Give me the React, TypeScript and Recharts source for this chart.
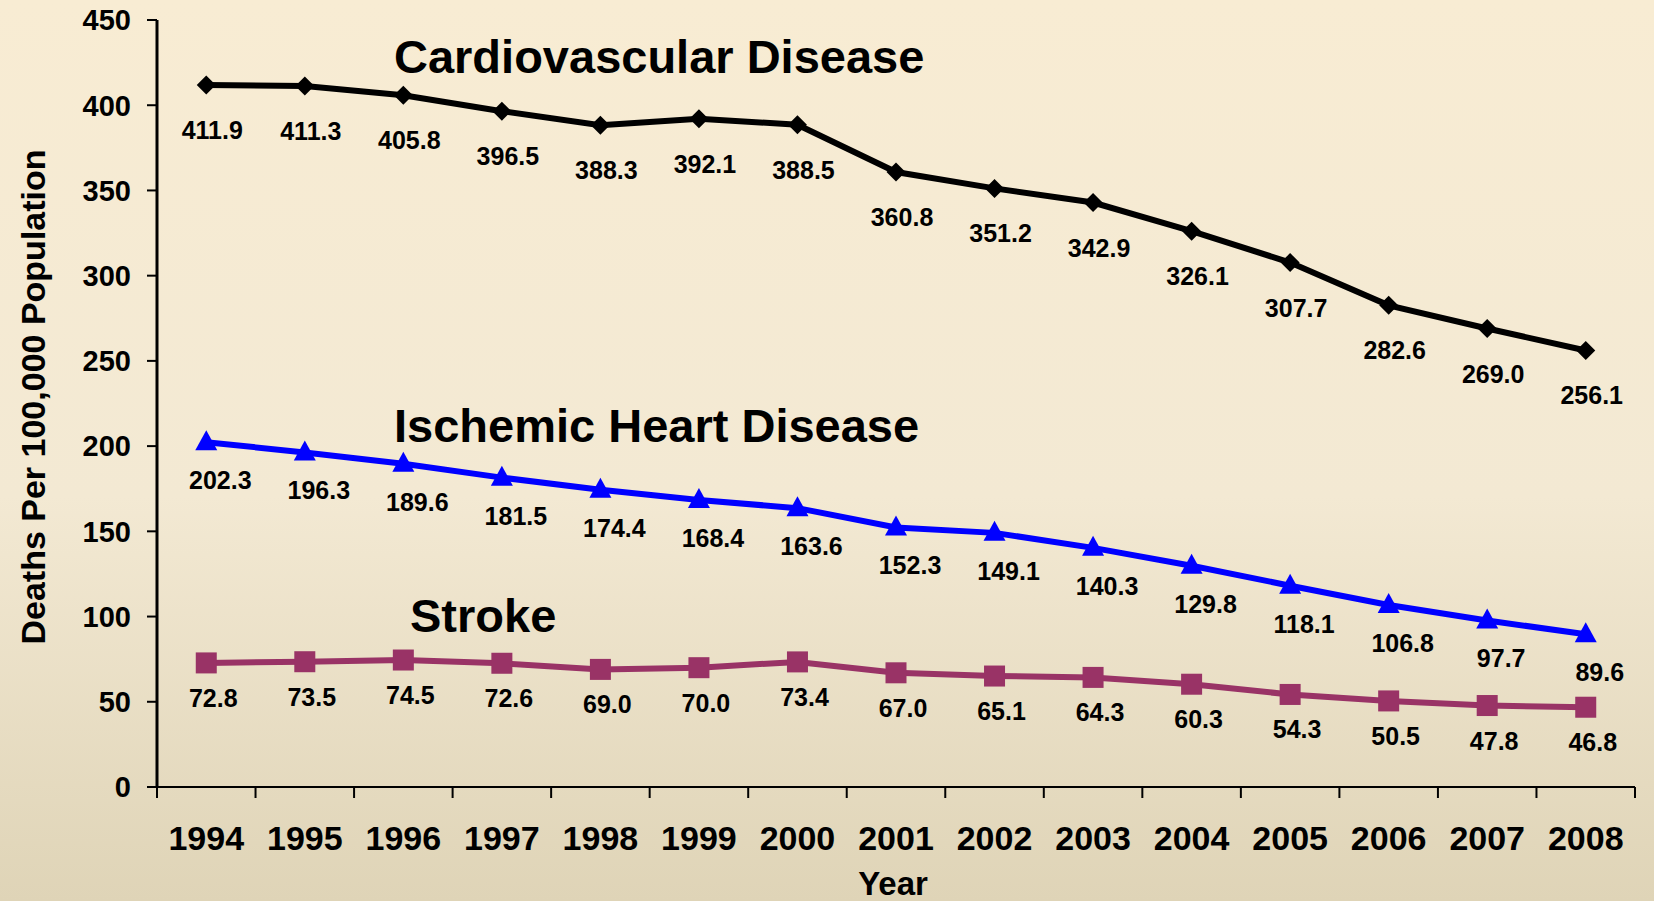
import React from 'react';
import { LineChart, Line, XAxis, YAxis, LabelList } from 'recharts';

const years = ['1994', '1995', '1996', '1997', '1998', '1999', '2000', '2001', '2002', '2003', '2004', '2005', '2006', '2007', '2008'];
const cardiovascular = [411.9, 411.3, 405.8, 396.5, 388.3, 392.1, 388.5, 360.8, 351.2, 342.9, 326.1, 307.7, 282.6, 269.0, 256.1];
const ischemic = [202.3, 196.3, 189.6, 181.5, 174.4, 168.4, 163.6, 152.3, 149.1, 140.3, 129.8, 118.1, 106.8, 97.7, 89.6];
const stroke = [72.8, 73.5, 74.5, 72.6, 69.0, 70.0, 73.4, 67.0, 65.1, 64.3, 60.3, 54.3, 50.5, 47.8, 46.8];
const yTicks = [0, 50, 100, 150, 200, 250, 300, 350, 400, 450];

const data = years.map((year, i) => ({
  year,
  cvd: cardiovascular[i],
  ihd: ischemic[i],
  stroke: stroke[i],
}));

const FONT = '"Liberation Sans", Arial, sans-serif';

const Diamond = (props: any) => {
  const { cx, cy, index } = props;
  if (cx == null || cy == null) return <g key={`d-${index}`} />;
  const r = 9.5;
  return (
    <polygon
      key={`d-${index}`}
      points={`${cx},${cy - r} ${cx + r},${cy} ${cx},${cy + r} ${cx - r},${cy}`}
      fill="#000"
    />
  );
};

const Triangle = (props: any) => {
  const { cx, cy, index } = props;
  if (cx == null || cy == null) return <g key={`t-${index}`} />;
  return (
    <polygon
      key={`t-${index}`}
      points={`${cx},${cy - 12} ${cx + 11},${cy + 8} ${cx - 11},${cy + 8}`}
      fill="#0000ff"
    />
  );
};

const Square = (props: any) => {
  const { cx, cy, index } = props;
  if (cx == null || cy == null) return <g key={`s-${index}`} />;
  return <rect key={`s-${index}`} x={cx - 10.5} y={cy - 10.5} width={21} height={21} fill="#993366" />;
};

const makeLabel = (dx: number, dy: number) => (props: any) => {
  const { x, y, value } = props;
  return (
    <text
      x={Number(x) + dx}
      y={Number(y) + dy}
      textAnchor="middle"
      fontFamily={FONT}
      fontWeight="bold"
      fontSize={25}
      fill="#000"
    >
      {Number(value).toFixed(1)}
    </text>
  );
};

const YearTick = (props: any) => {
  const { x, y, payload, index, visibleTicksCount } = props;
  const half = payload?.offset || 49;
  return (
    <g>
      <line x1={x - half} x2={x - half} y1={y} y2={y + 11} stroke="#000" strokeWidth={2} />
      {index === visibleTicksCount - 1 && (
        <line x1={x + half} x2={x + half} y1={y} y2={y + 11} stroke="#000" strokeWidth={2} />
      )}
      <text x={x} y={y + 63} textAnchor="middle" fontFamily={FONT} fontWeight="bold" fontSize={34} fill="#000">
        {payload.value}
      </text>
    </g>
  );
};

const titleStyle = { fontFamily: FONT, fontWeight: 'bold' as const, fill: '#000' };

export default function App() {
  return (
    <div
      style={{
        position: 'absolute',
        left: 0,
        top: 0,
        width: 1654,
        height: 901,
        overflow: 'hidden',
        background: 'linear-gradient(to bottom, #f8ecd3 0%, #f3e9d3 55%, #dfd4b7 100%)',
      }}
    >
      <LineChart width={1654} height={901} data={data} margin={{ top: 20, right: 19, bottom: 0, left: 0 }}>
        <XAxis
          dataKey="year"
          scale="band"
          interval={0}
          height={114}
          tickSize={0}
          tickMargin={0}
          tickLine={false}
          axisLine={{ stroke: '#000', strokeWidth: 2 }}
          tick={<YearTick />}
        />
        <YAxis
          width={157}
          domain={[0, 450]}
          ticks={yTicks}
          interval={0}
          tickSize={10}
          tickMargin={16}
          axisLine={{ stroke: '#000', strokeWidth: 3 }}
          tickLine={{ stroke: '#000', strokeWidth: 2 }}
          tick={{ fill: '#000', fontFamily: FONT, fontWeight: 'bold', fontSize: 29 }}
        />
        <Line dataKey="cvd" stroke="#000" strokeWidth={6} dot={Diamond} activeDot={false} isAnimationActive={false}>
          <LabelList dataKey="cvd" content={makeLabel(6, 54)} />
        </Line>
        <Line dataKey="ihd" stroke="#0000ff" strokeWidth={6} dot={Triangle} activeDot={false} isAnimationActive={false}>
          <LabelList dataKey="ihd" content={makeLabel(14, 47)} />
        </Line>
        <Line dataKey="stroke" stroke="#993366" strokeWidth={6} dot={Square} activeDot={false} isAnimationActive={false}>
          <LabelList dataKey="stroke" content={makeLabel(7, 44)} />
        </Line>
      </LineChart>
      <svg width={1654} height={901} style={{ position: 'absolute', left: 0, top: 0, pointerEvents: 'none' }}>
        <text x={394} y={73} fontSize={47} {...titleStyle}>Cardiovascular Disease</text>
        <text x={394} y={442} fontSize={47} {...titleStyle}>Ischemic Heart Disease</text>
        <text x={410} y={632} fontSize={47} {...titleStyle}>Stroke</text>
        <text x={45} y={397} fontSize={34} textAnchor="middle" transform="rotate(-90 45 397)" {...titleStyle}>
          Deaths Per 100,000 Population
        </text>
        <text x={893} y={895} fontSize={33} textAnchor="middle" {...titleStyle}>Year</text>
      </svg>
    </div>
  );
}
